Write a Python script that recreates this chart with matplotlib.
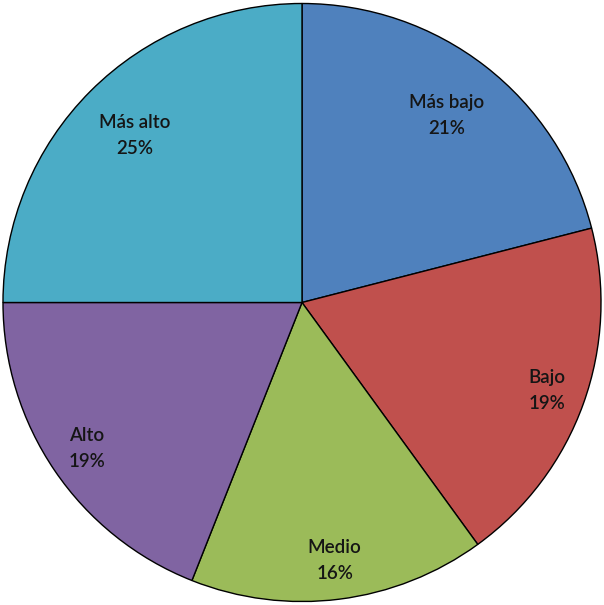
"""Pie chart: distribution by level."""

import matplotlib.pyplot as plt
import numpy as np

labels = ["Más bajo", "Bajo", "Medio", "Alto", "Más alto"]
shares = [21, 19, 16, 19, 25]
colors = ["#4F81BD", "#C0504D", "#9BBB59", "#8064A2", "#4BACC6"]
label_radius = [0.79, 0.87, 0.87, 0.87, 0.79]

fig = plt.figure(figsize=(6.04, 6.05), dpi=100)
ax = fig.add_axes([0, 0, 1, 1])
wedges, _ = ax.pie(
    shares,
    colors=colors,
    startangle=90,
    counterclock=False,
    radius=1.0,
    wedgeprops=dict(edgecolor="black", linewidth=1.0),
)

for w, lab, val, r in zip(wedges, labels, shares, label_radius):
    mid = np.deg2rad((w.theta1 + w.theta2) / 2)
    ax.text(r * np.cos(mid), r * np.sin(mid), f"{lab}\n{val}%",
            ha="center", va="center", fontsize=13.5, family="Lato",
            fontweight="semibold", color="#151515", linespacing=1.65)

ax.set_xlim(-1.01, 1.01)
ax.set_ylim(-1.01, 1.01)
ax.set_aspect("equal")
ax.axis("off")
fig.savefig("out.png", dpi=100)
